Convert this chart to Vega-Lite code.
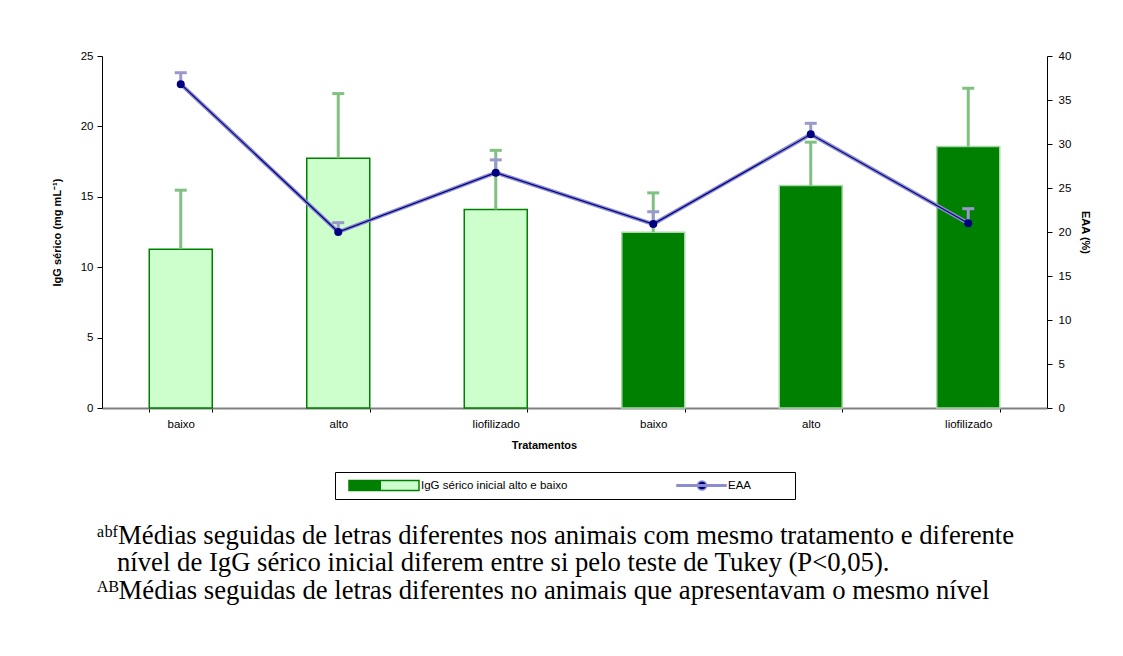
{
  "$schema": "https://vega.github.io/schema/vega-lite/v6.json",
  "width": 945,
  "height": 352,
  "autosize": {"type": "none"},
  "padding": {"left": 102, "top": 56, "right": 76, "bottom": 248},
  "background": "white",
  "config": {
    "view": {"stroke": null},
    "font": "Liberation Sans",
    "axis": {"grid": false, "labelColor": "black", "titleColor": "black", "labelFont": "Liberation Sans", "titleFont": "Liberation Sans", "labelFontSize": 11.5, "titleFontSize": 11, "titleFontWeight": "bold", "tickColor": "black", "domainColor": "black"}
  },
  "data": {
    "values": [
      {"grupo": "baixo|1", "ordem": 1, "nivel": "baixo", "igg": 11.28, "igg_sup": 15.47, "eaa": 36.8, "eaa_sup": 38.1},
      {"grupo": "alto|1", "ordem": 2, "nivel": "baixo", "igg": 17.74, "igg_sup": 22.33, "eaa": 20.0, "eaa_sup": 21.06},
      {"grupo": "liofilizado|1", "ordem": 3, "nivel": "baixo", "igg": 14.1, "igg_sup": 18.3, "eaa": 26.74, "eaa_sup": 28.2},
      {"grupo": "baixo|2", "ordem": 4, "nivel": "alto", "igg": 12.49, "igg_sup": 15.28, "eaa": 20.9, "eaa_sup": 22.3},
      {"grupo": "alto|2", "ordem": 5, "nivel": "alto", "igg": 15.8, "igg_sup": 18.88, "eaa": 31.1, "eaa_sup": 32.35},
      {"grupo": "liofilizado|2", "ordem": 6, "nivel": "alto", "igg": 18.57, "igg_sup": 22.71, "eaa": 21.0, "eaa_sup": 22.65}
    ]
  },
  "title": {
    "text": [
      "ᵃᵇᶠMédias seguidas de letras diferentes nos animais com mesmo tratamento e diferente",
      "\u2800nível de IgG sérico inicial diferem entre si pelo teste de Tukey (P<0,05).",
      "ᴬᴮMédias seguidas de letras diferentes no animais que apresentavam o mesmo nível"
    ],
    "orient": "bottom",
    "anchor": "start",
    "frame": "group",
    "font": "Liberation Serif",
    "fontSize": 26.7,
    "fontWeight": "normal",
    "color": "black",
    "lineHeight": 27.5,
    "offset": 23,
    "dx": -5
  },
  "encoding": {
    "x": {
      "field": "grupo",
      "type": "nominal",
      "sort": ["baixo|1", "alto|1", "liofilizado|1", "baixo|2", "alto|2", "liofilizado|2"],
      "scale": {"paddingInner": 0.6, "paddingOuter": 0.3},
      "axis": {
        "title": "Tratamentos",
        "titleX": 442,
        "titlePadding": 10,
        "labelAngle": 0,
        "labelExpr": "split(datum.label, '|')[0]",
        "tickBand": "extent",
        "tickSize": 4,
        "labelPadding": 6,
        "domainColor": "#808080",
        "domainWidth": 2
      }
    }
  },
  "layer": [
    {
      "encoding": {
        "y": {"field": "igg", "type": "quantitative", "title": "IgG sérico (mg mL⁻¹)", "scale": {"domain": [0, 25]},
          "axis": {"orient": "left", "values": [0, 5, 10, 15, 20, 25], "tickSize": 5, "labelPadding": 4, "titlePadding": 18}}
      },
      "layer": [
        {
          "mark": {"type": "bar", "strokeWidth": 1.5},
          "encoding": {
            "fill": {"field": "nivel", "type": "nominal", "scale": {"domain": ["baixo", "alto"], "range": ["#ccffcc", "#008000"]}, "legend": null},
            "stroke": {"field": "nivel", "type": "nominal", "scale": {"domain": ["baixo", "alto"], "range": ["#008000", "#a8d8a8"]}, "legend": null}
          }
        },
        {
          "mark": {"type": "rule", "color": "#80c080", "strokeWidth": 3},
          "encoding": {"y2": {"field": "igg_sup"}}
        },
        {
          "mark": {"type": "tick", "color": "#80c080", "thickness": 3, "size": 12, "opacity": 1},
          "encoding": {"y": {"field": "igg_sup", "type": "quantitative", "title": "IgG sérico (mg mL⁻¹)"}}
        }
      ]
    },
    {
      "encoding": {
        "y": {"field": "eaa", "type": "quantitative", "title": "EAA (%)", "scale": {"domain": [0, 40]},
          "axis": {"orient": "right", "values": [0, 5, 10, 15, 20, 25, 30, 35, 40], "tickSize": 5, "labelPadding": 6, "titlePadding": 9, "titleAngle": 90}}
      },
      "layer": [
        {
          "mark": {"type": "line", "strokeWidth": 4},
          "encoding": {
            "order": {"field": "ordem", "type": "quantitative"},
            "color": {
              "datum": "EAA",
              "scale": {"domain": ["IgG sérico inicial alto e baixo", "EAA"], "range": ["#008000", "#8c8cd0"]},
              "legend": {
                "orient": "none",
                "legendX": 233,
                "legendY": 416,
                "direction": "horizontal",
                "columns": 2,
                "title": null,
                "strokeColor": "black",
                "padding": 7,
                "clipHeight": 13,
                "symbolSize": 4900,
                "symbolStrokeWidth": 1.5,
                "symbolFillColor": {"expr": "datum.value == 'EAA' ? '#000080' : {gradient: 'linear', stops: [{offset: 0, color: '#008000'}, {offset: 0.46, color: '#008000'}, {offset: 0.46, color: '#ccffcc'}, {offset: 1, color: '#ccffcc'}]}"},
                "symbolType": {"expr": "datum.value == 'EAA' ? 'M-0.4,-0.02H1V0.02H-0.4ZM0.184,0A0.13,0.13 0 1,0 0.444,0A0.13,0.13 0 1,0 0.184,0Z' : 'M-1,-0.143H1V0.143H-1Z'"},
                "symbolOpacity": 1,
                "symbolOffset": 6,
                "labelOffset": 1,
                "columnPadding": 81,
                "labelLimit": 400,
                "labelFont": "Liberation Sans",
                "labelFontSize": 11.5,
                "labelColor": "black",
                "labelExpr": "datum.label == 'EAA' ? 'EAA\u2800\u2800\u2800\u2800' : datum.label"
              }
            }
          }
        },
        {
          "mark": {"type": "line", "strokeWidth": 1.2, "color": "#000080"},
          "encoding": {"order": {"field": "ordem", "type": "quantitative"}}
        },
        {
          "mark": {"type": "rule", "color": "#9999cc", "strokeWidth": 3},
          "encoding": {"y2": {"field": "eaa_sup"}}
        },
        {
          "mark": {"type": "tick", "color": "#9999cc", "thickness": 3, "size": 12, "opacity": 1},
          "encoding": {"y": {"field": "eaa_sup", "type": "quantitative", "title": "EAA (%)"}}
        },
        {
          "mark": {"type": "point", "filled": true, "size": 64, "color": "#000080", "opacity": 1}
        }
      ]
    }
  ],
  "resolve": {"scale": {"y": "independent"}, "axis": {"y": "independent"}}
}
